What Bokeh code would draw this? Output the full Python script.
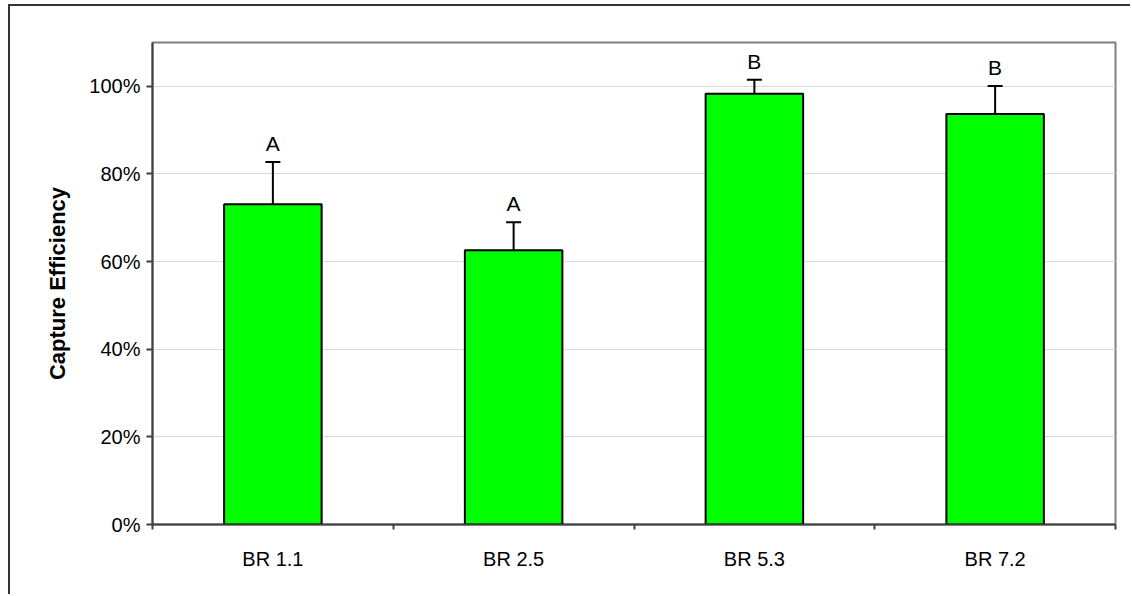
from bokeh.plotting import figure
from bokeh.models import ColumnDataSource, FixedTicker, NumeralTickFormatter, Whisker, TeeHead, Range1d
from bokeh.core.properties import value
from bokeh.embed import file_html
from bokeh.resources import INLINE

categories = ["BR 1.1", "BR 2.5", "BR 5.3", "BR 7.2"]
efficiency = [0.731, 0.626, 0.983, 0.937]
error_upper = [0.827, 0.690, 1.015, 1.001]
letters = ["A", "A", "B", "B"]
y_ticks = [0, 0.2, 0.4, 0.6, 0.8, 1.0]

n = len(categories)
centers = [i + 0.5 for i in range(n)]
src = ColumnDataSource(dict(x=centers, cat=categories, top=efficiency,
                            upper=error_upper, letter=letters))

FONT = "Liberation Sans"

p = figure(width=1122, height=590, output_backend="svg", toolbar_location=None,
           x_range=Range1d(0, n), y_range=Range1d(0, 1.1),
           min_border_left=142, min_border_right=17, min_border_top=36,
           min_border_bottom=72,
           styles={"border-top": "2px solid #333333", "border-left": "2px solid #333333",
                   "margin-left": "8px", "margin-top": "4px"})

p.outline_line_color = "#808080"
p.outline_line_width = 2
p.background_fill_color = "white"
p.border_fill_color = "white"

p.vbar(x="x", top="top", bottom=0, width=0.405, source=src,
       fill_color="#00ff00", line_color="black", line_width=2)

w = Whisker(base="x", lower="top", upper="upper", source=src,
            line_color="black", line_width=2,
            upper_head=TeeHead(size=15, line_color="black", line_width=2),
            lower_head=None)
p.add_layout(w)

p.text(x="x", y="upper", text="letter", source=src, text_align="center",
       text_baseline="bottom", y_offset=-7, text_font=value(FONT),
       text_font_size="21px", text_color="black")

# x axis
xt = FixedTicker(ticks=centers, minor_ticks=list(range(n + 1)))
p.xaxis.ticker = xt
p.xaxis.major_label_overrides = {c: lab for c, lab in zip(centers, categories)}
p.xaxis.major_tick_out = 0
p.xaxis.major_tick_in = 0
p.xaxis.minor_tick_out = 5
p.xaxis.minor_tick_in = 0
p.xaxis.minor_tick_line_color = "#404040"
p.xaxis.minor_tick_line_width = 2
p.xaxis.axis_line_color = "#404040"
p.xaxis.axis_line_width = 2
p.xaxis.major_label_text_font = FONT
p.xaxis.major_label_text_font_size = "20px"
p.xaxis.major_label_text_color = "black"
p.xaxis.major_label_standoff = 18

# y axis
p.yaxis.ticker = FixedTicker(ticks=y_ticks)
p.yaxis.formatter = NumeralTickFormatter(format="0%")
p.yaxis.major_tick_out = 6
p.yaxis.major_tick_in = 0
p.yaxis.minor_tick_line_color = None
p.yaxis.major_tick_line_color = "#404040"
p.yaxis.major_tick_line_width = 2
p.yaxis.axis_line_color = "#404040"
p.yaxis.axis_line_width = 2
p.yaxis.major_label_text_font = FONT
p.yaxis.major_label_text_font_size = "20px"
p.yaxis.major_label_text_color = "black"
p.yaxis.major_label_standoff = 6
p.yaxis.axis_label = "Capture Efficiency"
p.yaxis.axis_label_text_font = FONT
p.yaxis.axis_label_text_font_size = "22px"
p.yaxis.axis_label_text_font_style = "bold"
p.yaxis.axis_label_text_color = "black"
p.yaxis.axis_label_standoff = 16

p.xgrid.grid_line_color = None
p.ygrid.grid_line_color = "#d9d9d9"
p.ygrid.grid_line_width = 1

open("out.html", "w").write(file_html(p, INLINE))
